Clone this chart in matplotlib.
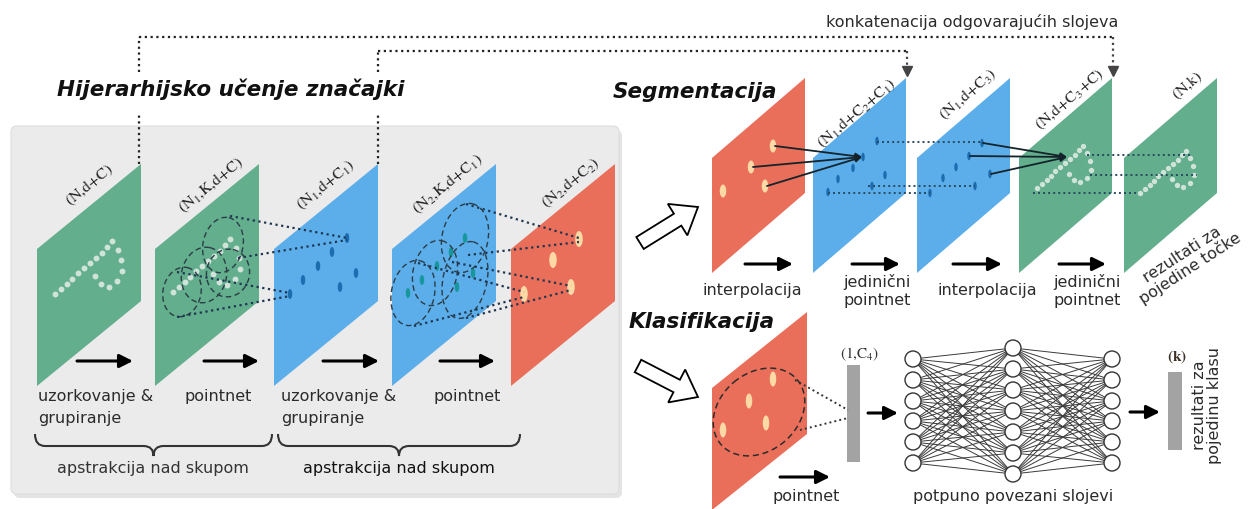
import matplotlib
matplotlib.use("Agg")
import matplotlib.pyplot as plt
from matplotlib.patches import Polygon, Ellipse, Circle, FancyBboxPatch, FancyArrow, PathPatch, Rectangle
from matplotlib.path import Path

plt.rcParams['mathtext.fontset'] = 'stix'
plt.rcParams['font.family'] = 'DejaVu Sans'

GREEN = '#62ae8d'
BLUE = '#5caeea'
RED = '#e96f5a'
PEACH = '#fdd9a6'
DOT_G = '#cfe3d8'
DARKBLUE = '#1d6cb0'
TEAL = '#17979c'
DOTLINE = '#1f3550'

# ---- hierarchical feature learning (left block) ----
left_x = [37, 155, 274, 392, 511]
left_colors = [GREEN, GREEN, BLUE, BLUE, RED]
left_labels = [r'$\mathrm{(N{,}d{+}C)}$', r'$\mathrm{(N_1{,}K{,}d{+}C)}$', r'$\mathrm{(N_1{,}d{+}C_1)}$',
               r'$\mathrm{(N_2{,}K{,}d{+}C_1)}$', r'$\mathrm{(N_2{,}d{+}C_2)}$']
left_label_xy = [(90, 185), (211, 185), (326, 185), (448, 184), (571, 183)]

# point cloud shape (panel 1), reused on other green panels
cloud_x = [55, 61, 67, 72, 78, 84, 90, 96, 102, 107, 112, 118, 121, 122, 117, 109, 101, 95]
cloud_y = [294, 289, 284, 279, 273, 268, 263, 258, 253, 247, 241, 250, 260, 271, 281, 287, 284, 276]

blue1_x = [347, 332, 318, 303, 290, 356, 340]
blue1_y = [238, 252, 266, 280, 294, 273, 287]
teal_x = [465, 451, 437, 422, 408, 457, 473]
teal_y = [238, 252, 266, 280, 293, 287, 273]
red2_x = [579, 553, 571, 524]
red2_y = [239, 260, 287, 294]

# grouping circles: centre x, centre y, width, height
circ2 = [(182, 292, 38, 50), (204, 275, 45, 56), (223, 245, 40, 56), (228, 273, 43, 48)]
circ4 = [(413, 293, 43, 66), (435, 273, 44, 66), (465, 238, 46, 70), (465, 280, 44, 78)]

cone_2_3 = [((230, 216), (347, 238)), ((238, 258), (347, 240)),
            ((177, 272), (290, 293)), ((177, 317), (290, 296))]
cone_4_5 = [((466, 204), (579, 238)), ((468, 255), (579, 242)),
            ((452, 262), (571, 286)), ((466, 318), (571, 290)),
            ((418, 263), (524, 292)), ((414, 326), (524, 297))]

left_arrows = [(77, 133), (204, 259), (323, 379), (440, 495)]
brace_x = [(35, 272), (278, 520)]

# ---- segmentation ----
seg_x = [712, 813, 917, 1019, 1124]
seg_colors = [RED, BLUE, BLUE, GREEN, GREEN]
seg_labels = [None, r'$\mathrm{(N_1{,}d{+}C_2{+}C_1)}$', r'$\mathrm{(N_1{,}d{+}C_3)}$',
              r'$\mathrm{(N{,}d{+}C_3{+}C)}$', r'$\mathrm{(N{,}k)}$']
seg_label_xy = [None, (857, 113), (968, 95), (1070, 100), (1188, 86)]
seg_red_x = [773, 751, 765, 723]
seg_red_y = [146, 167, 186, 191]
seg_b2_x = [877, 863, 853, 885, 838, 872, 828]
seg_b2_y = [141, 157, 168, 175, 179, 186, 192]
seg_b3_x = [982, 969, 956, 990, 943, 975, 930]
seg_b3_y = [143, 156, 167, 174, 178, 186, 193]
seg_dotted = [((877, 142), (982, 142)), ((868, 186), (975, 186)), ((828, 193), (930, 193)),
              ((1087, 155), (1190, 155)), ((1090, 175), (1197, 175)), ((1033, 193), (1137, 193))]
seg_arrows = [(745, 793), (852, 900), (953, 1002), (1059, 1106)]

# ---- classification ----
l1_y = [359, 380, 401, 421, 442, 463]
l2_y = [348, 369, 390, 411, 432, 453, 474]
l3_y = [359, 380, 401, 421, 442, 463]
layer_x = [913, 1013, 1112]
cls_red_x = [773, 749, 766, 723]
cls_red_y = [379, 401, 423, 430]

fig = plt.figure(figsize=(12.48, 5.09), dpi=100)
ax = fig.add_axes([0, 0, 1, 1])
ax.set_xlim(0, 1248)
ax.set_ylim(509, 0)
ax.axis('off')


def panel(left, top, w, shear, h, color, z=2):
    pts = [(left, top + shear), (left + w, top), (left + w, top + h), (left, top + shear + h)]
    ax.add_patch(Polygon(pts, closed=True, fc=color, ec='none', zorder=z))


def arrow(x0, x1, y, ms=20, lw=2.2):
    ax.annotate('', xy=(x1, y), xytext=(x0, y),
                arrowprops=dict(arrowstyle='-|>', color='black', lw=lw, mutation_scale=ms,
                                shrinkA=0, shrinkB=0), zorder=6)


def dotted(p0, p1, color=DOTLINE, lw=1.6):
    ax.plot([p0[0], p1[0]], [p0[1], p1[1]], color=color, lw=lw, ls=(0, (1, 1.6)), zorder=5)


def brace(x0, x1, y, d=10):
    m = (x0 + x1) / 2
    verts = [(x0, y - 12), (x0, y), (x0 + d, y), (m - d, y), (m, y), (m, y + d),
             (m, y), (m + d, y), (x1 - d, y), (x1, y), (x1, y - 12)]
    codes = [Path.MOVETO, Path.CURVE3, Path.CURVE3, Path.LINETO, Path.CURVE3, Path.CURVE3,
             Path.CURVE3, Path.CURVE3, Path.LINETO, Path.CURVE3, Path.CURVE3]
    ax.add_patch(PathPatch(Path(verts, codes), fill=False, lw=1.5, ec='#333333', zorder=5))


# gray background block
ax.add_patch(FancyBboxPatch((14, 130), 608, 368, boxstyle='round,pad=0,rounding_size=6',
                            fc='#d2d2d2', ec='none', alpha=0.6, zorder=0))
ax.add_patch(FancyBboxPatch((11, 126), 608, 368, boxstyle='round,pad=0,rounding_size=6',
                            fc='#ebebeb', ec='#dddddd', lw=0.8, zorder=0.5))

LW, LSH, LH, LTOP = 104, 85, 137, 164
for x, c in zip(left_x, left_colors):
    panel(x, LTOP, LW, LSH, LH, c)
for (x, y), s in zip(left_label_xy, left_labels):
    ax.text(x, y, s, rotation=39, ha='center', va='center', fontsize=11.5, color='#222222',
            rotation_mode='anchor', zorder=6)

# point clouds on the green panels
ax.scatter(cloud_x, cloud_y, s=18, color=DOT_G, zorder=3, lw=0)
ax.scatter([x + 118 for x in cloud_x], [y - 2 for y in cloud_y], s=18, color=DOT_G, zorder=3, lw=0)

# blue / teal / peach points
for x, y in zip(blue1_x, blue1_y):
    ax.add_patch(Ellipse((x, y), 4.5, 10, fc=DARKBLUE, ec='none', zorder=3))
for x, y in zip(teal_x, teal_y):
    ax.add_patch(Ellipse((x, y), 4.5, 10, fc=TEAL, ec='none', zorder=3))
for x, y in zip(red2_x, red2_y):
    ax.add_patch(Ellipse((x, y), 7.5, 16, fc=PEACH, ec='none', zorder=3))

# grouping circles
for cx, cy, w, h in circ2 + circ4:
    ax.add_patch(Ellipse((cx, cy), w, h, angle=12, fill=False, ec='#2c3c46', lw=1.0,
                         ls=(0, (4, 2.5)), zorder=4))

for p0, p1 in cone_2_3 + cone_4_5:
    dotted(p0, p1)

for x0, x1 in left_arrows:
    arrow(x0, x1, 361)

ax.text(38, 397, 'uzorkovanje &', fontsize=11.5, va='center', color='#2b2b2b')
ax.text(38, 418, 'grupiranje', fontsize=11.5, va='center', color='#2b2b2b')
ax.text(281, 397, 'uzorkovanje &', fontsize=11.5, va='center', color='#2b2b2b')
ax.text(281, 418, 'grupiranje', fontsize=11.5, va='center', color='#2b2b2b')
ax.text(218, 396, 'pointnet', fontsize=11.5, va='center', ha='center', color='#2b2b2b')
ax.text(467, 396, 'pointnet', fontsize=11.5, va='center', ha='center', color='#2b2b2b')

for x0, x1 in brace_x:
    brace(x0, x1, 446)
ax.text(153, 468, 'apstrakcija nad skupom', fontsize=11.5, ha='center', va='center', color='#333333')
ax.text(399, 468, 'apstrakcija nad skupom', fontsize=11.5, ha='center', va='center', color='#111111')

ax.text(231, 89, 'Hijerarhijsko učenje značajki', fontsize=15.5, fontweight='bold',
        fontstyle='italic', ha='center', va='center', color='#111111')

# skip links (concatenation)
for xs, ytop, xe in ((139, 37, 1113), (378, 51, 907)):
    dotted((xs, LTOP), (xs, 113), color='#222222')
    dotted((xs, 72), (xs, ytop), color='#222222')
    dotted((xs, ytop), (xe, ytop), color='#222222')
    dotted((xe, ytop), (xe, 66), color='#444444')
    ax.plot(xe, 71, marker='v', ms=7, color='#444444', zorder=6)
ax.text(972, 22, 'konkatenacija odgovarajućih slojeva', fontsize=11.5, ha='center', va='center',
        color='#2b2b2b')

# ---- segmentation branch ----
SW, SSH, SH, STOP = 93, 80, 115, 78
for x, c in zip(seg_x, seg_colors):
    panel(x, STOP, SW, SSH, SH, c)
for xy, s in zip(seg_label_xy, seg_labels):
    if s:
        ax.text(xy[0], xy[1], s, rotation=40.5, ha='center', va='center', fontsize=11.5,
                color='#222222', rotation_mode='anchor', zorder=6)

for x, y in zip(seg_red_x, seg_red_y):
    ax.add_patch(Ellipse((x, y), 6.5, 13, fc=PEACH, ec='none', zorder=3))
for x, y in zip(seg_b2_x + seg_b3_x, seg_b2_y + seg_b3_y):
    ax.add_patch(Ellipse((x, y), 3.5, 8.5, fc=DARKBLUE, ec='none', zorder=3))
for p0, p1 in seg_dotted:
    dotted(p0, p1, color='#2a4a5e', lw=1.4)

sx = [1037 + 0.8 * (x - 55) for x in cloud_x]
sy = [188 + 0.8 * (y - 294) for y in cloud_y]
ax.scatter(sx, sy, s=15, color=DOT_G, zorder=3, lw=0)
ax.scatter([x + 103 for x in sx], [y + 5 for y in sy], s=15, color=DOT_G, zorder=3, lw=0)

for i in range(3):
    ax.annotate('', xy=(862, 157), xytext=(seg_red_x[i] + 2, seg_red_y[i]),
                arrowprops=dict(arrowstyle='-|>', color='#15232b', lw=1.3, mutation_scale=9,
                                shrinkA=0, shrinkB=0), zorder=6)
for i in (0, 1, 3):
    ax.annotate('', xy=(1067, 157), xytext=(seg_b3_x[i] + 1, seg_b3_y[i]),
                arrowprops=dict(arrowstyle='-|>', color='#15232b', lw=1.3, mutation_scale=9,
                                shrinkA=0, shrinkB=0), zorder=6)

for x0, x1 in seg_arrows:
    arrow(x0, x1, 264)
ax.text(752, 291, 'interpolacija', fontsize=11.5, ha='center', va='center', color='#2b2b2b')
ax.text(987, 290, 'interpolacija', fontsize=11.5, ha='center', va='center', color='#2b2b2b')
for cx in (877, 1087):
    ax.text(cx, 282, 'jedinični', fontsize=11.5, ha='center', va='center', color='#2b2b2b')
    ax.text(cx, 301, 'pointnet', fontsize=11.5, ha='center', va='center', color='#2b2b2b')
ax.text(1186, 262, 'rezultati za\npojedine točke', fontsize=11.5, rotation=33, ha='center',
        va='center', rotation_mode='anchor', linespacing=1.0, color='#2b2b2b')

ax.text(613, 92, 'Segmentacija', fontsize=15.5, fontweight='bold', fontstyle='italic',
        va='center', color='#111111')
ax.add_patch(FancyArrow(640, 243, 58, -36, width=14, head_width=37, head_length=24,
                        length_includes_head=True, fc='white', ec='black', lw=1.3, zorder=6))

# ---- classification branch ----
ax.text(629, 322, 'Klasifikacija', fontsize=15.5, fontweight='bold', fontstyle='italic',
        va='center', color='#111111')
ax.add_patch(FancyArrow(638, 366, 60, 31, width=14, head_width=37, head_length=24,
                        length_includes_head=True, fc='white', ec='black', lw=1.3, zorder=6))

CW, CSH, CH, CTOP = 95, 76, 122, 312
panel(712, CTOP, CW, CSH, CH, RED)
for x, y in zip(cls_red_x, cls_red_y):
    ax.add_patch(Ellipse((x, y), 6.5, 15, fc=PEACH, ec='none', zorder=3))
ax.add_patch(Ellipse((759, 412), 100, 78, angle=-40, fill=False,
                     ec='#2c2c2c', lw=1.1, ls=(0, (4, 2.5)), zorder=4))
dotted((795, 380), (848, 410), color='#333333', lw=1.4)
dotted((800, 430), (848, 418), color='#333333', lw=1.4)
arrow(780, 830, 477)
ax.text(806, 497, 'pointnet', fontsize=11.5, ha='center', va='center', color='#2b2b2b')

ax.add_patch(Rectangle((847, 365), 13, 97, fc='#a3a3a3', ec='none', zorder=3))
ax.text(860, 354, r'$\mathrm{(1{,}C_4)}$', fontsize=11, ha='center', va='center', color='#333333')
arrow(868, 898, 413)

layers = [l1_y, l2_y, l3_y]
for a in range(2):
    for ya in layers[a]:
        for yb in layers[a + 1]:
            ax.plot([layer_x[a], layer_x[a + 1]], [ya, yb], color='#3a3a3a', lw=0.7, zorder=3)
for lx, ys in zip(layer_x, layers):
    for y in ys:
        ax.add_patch(Circle((lx, y), 8, fc='white', ec='#333333', lw=1.0, zorder=4))
ax.text(1013, 497, 'potpuno povezani slojevi', fontsize=11.5, ha='center', va='center',
        color='#2b2b2b')

arrow(1130, 1160, 412)
ax.add_patch(Rectangle((1168, 372), 14, 78, fc='#a3a3a3', ec='none', zorder=3))
ax.text(1177, 357, r'$\mathbf{(k)}$', fontsize=11, ha='center', va='center', color='#3b3026')
ax.text(1207, 405, 'rezultati za\npojedinu klasu', fontsize=11.5, rotation=90, ha='center',
        va='center', linespacing=1.05, color='#2b2b2b')

fig.savefig('out.png', dpi=100)
